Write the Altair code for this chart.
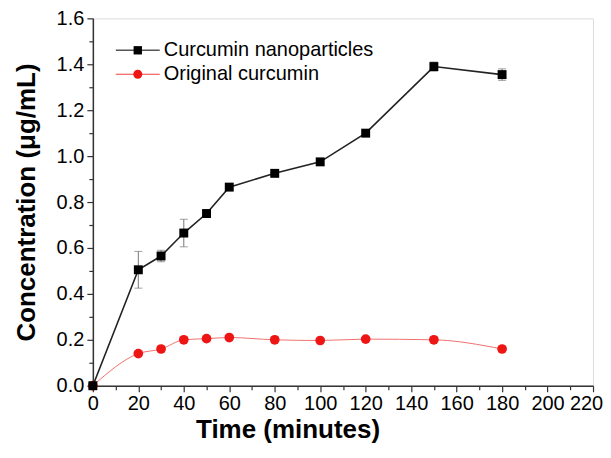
import altair as alt
import pandas as pd

# ---- data ----
time_nano = [0, 20, 30, 40, 50, 60, 80, 100, 120, 150, 180]
conc_nano = [0.0, 0.505, 0.565, 0.665, 0.75, 0.865, 0.925, 0.975, 1.10, 1.39, 1.355]
err_nano = [0.0, 0.08, 0.025, 0.06, 0.01, 0.01, 0.005, 0.01, 0.01, 0.02, 0.025]

time_orig = [0, 20, 30, 40, 50, 60, 80, 100, 120, 150, 180]
conc_orig = [0.0, 0.14, 0.16, 0.20, 0.205, 0.21, 0.20, 0.197, 0.203, 0.20, 0.16]

series_names = ["Curcumin nanoparticles", "Original curcumin"]
x_major = [0, 20, 40, 60, 80, 100, 120, 140, 160, 180, 200, 220]
x_minor = [10, 30, 50, 70, 90, 110, 130, 150, 170, 190, 210]
y_major = [0.0, 0.2, 0.4, 0.6, 0.8, 1.0, 1.2, 1.4, 1.6]
y_minor = [0.1, 0.3, 0.5, 0.7, 0.9, 1.1, 1.3, 1.5]

FONT = "Liberation Sans"
W, H = 501, 368

nano = pd.DataFrame({"t": time_nano, "c": conc_nano, "e": err_nano})
nano["lo"] = nano["c"] - nano["e"]
nano["hi"] = nano["c"] + nano["e"]
orig = pd.DataFrame({"t": time_orig, "c": conc_orig})

xs = alt.Scale(domain=[0, 220], nice=False)
ys = alt.Scale(domain=[0, 1.6], nice=False)

x_axis = alt.Axis(values=x_major, title="Time (minutes)", tickSize=6, labelPadding=2,
                  labelFontSize=20, labelFont=FONT, labelColor="black",
                  labelOffset={"condition": {"test": "datum.value == 220", "value": -7}, "value": 0},
                  titleFont=FONT, titleFontSize=26, titleFontWeight="bold", titleColor="black",
                  titleX=195, titleY=44, titleAlign="center", titleBaseline="middle",
                  domainColor="#333", domainWidth=1.5, tickColor="#333", tickWidth=1.2,
                  grid=False, labelFlush=False, labelOverlap=False)
y_axis = alt.Axis(values=y_major, format=".1f", title="Concentration (μg/mL)", tickSize=6,
                  labelPadding=3, labelFontSize=20, labelFont=FONT, labelColor="black",
                  titleFont=FONT, titleFontSize=26, titleFontWeight="bold", titleColor="black",
                  titleX=-66, titleY=H / 2, titleAlign="center", titleBaseline="middle",
                  titleAngle=270,
                  domainColor="#333", domainWidth=1.5, tickColor="#333", tickWidth=1.2,
                  grid=False, labelFlush=False, labelOverlap=False)

base_n = alt.Chart(nano)
base_o = alt.Chart(orig)

# minor ticks (independent axes, no labels)
minor = base_n.mark_point(opacity=0).encode(
    x=alt.X("t:Q", scale=xs, axis=alt.Axis(values=x_minor, labels=False, title=None, domain=False,
                                           tickSize=4, tickColor="#333", tickWidth=1.2,
                                           grid=False, orient="bottom")),
    y=alt.Y("c:Q", scale=ys, axis=alt.Axis(values=y_minor, labels=False, title=None, domain=False,
                                           tickSize=4, tickColor="#333", tickWidth=1.2,
                                           grid=False, orient="left")),
)

main_axes = base_n.mark_point(opacity=0).encode(
    x=alt.X("t:Q", scale=xs, axis=x_axis),
    y=alt.Y("c:Q", scale=ys, axis=y_axis),
)

err = base_n.mark_errorbar(ticks=alt.MarkConfig(size=8, color="#777"), color="#777", thickness=1).encode(
    x=alt.X("t:Q", scale=xs, axis=None),
    y=alt.Y("lo:Q", scale=ys, axis=None),
    y2="hi:Q",
)

line_o = base_o.mark_line(color="#f07070", strokeWidth=1, interpolate="monotone").encode(
    x=alt.X("t:Q", scale=xs, axis=None), y=alt.Y("c:Q", scale=ys, axis=None))
pts_o = base_o.mark_point(shape="circle", filled=True, color="#ee1515", size=95, opacity=1).encode(
    x=alt.X("t:Q", scale=xs, axis=None), y=alt.Y("c:Q", scale=ys, axis=None))

line_n = base_n.mark_line(color="#222", strokeWidth=1.6).encode(
    x=alt.X("t:Q", scale=xs, axis=None), y=alt.Y("c:Q", scale=ys, axis=None))
pts_n = base_n.mark_point(shape="square", filled=True, color="black", size=80, opacity=1).encode(
    x=alt.X("t:Q", scale=xs, axis=None), y=alt.Y("c:Q", scale=ys, axis=None))

# legend (manual)
leg_df = pd.DataFrame({"name": [series_names[0]]})
leg_df2 = pd.DataFrame({"name": [series_names[1]]})
r1, r2 = 32, 56
leg = [
    alt.Chart(leg_df).mark_rule(color="#555", strokeWidth=1.6).encode(
        x=alt.value(23), x2=alt.value(67), y=alt.value(r1)),
    alt.Chart(leg_df).mark_point(shape="square", filled=True, color="black", size=70, opacity=1).encode(
        x=alt.value(45), y=alt.value(r1)),
    alt.Chart(leg_df).mark_text(align="left", baseline="middle", font=FONT, fontSize=20, color="black").encode(
        x=alt.value(71), y=alt.value(r1), text="name:N"),
    alt.Chart(leg_df2).mark_rule(color="#f04040", strokeWidth=1.2).encode(
        x=alt.value(23), x2=alt.value(67), y=alt.value(r2)),
    alt.Chart(leg_df2).mark_point(shape="circle", filled=True, color="#ee1515", size=80, opacity=1).encode(
        x=alt.value(45), y=alt.value(r2)),
    alt.Chart(leg_df2).mark_text(align="left", baseline="middle", font=FONT, fontSize=20, color="black").encode(
        x=alt.value(71), y=alt.value(r2), text="name:N"),
]

chart = alt.layer(main_axes, minor, err, line_o, pts_o, line_n, pts_n, *leg).resolve_axis(
    x="independent", y="independent"
).properties(
    width=W, height=H,
    autosize=alt.AutoSizeParams(type="none"),
    padding={"left": 85, "top": 10, "right": 10, "bottom": 60},
).configure_view(stroke="#333", strokeWidth=1.5).configure(background="white")

chart.save("out.html", embed_options={"renderer": "svg", "actions": False})
